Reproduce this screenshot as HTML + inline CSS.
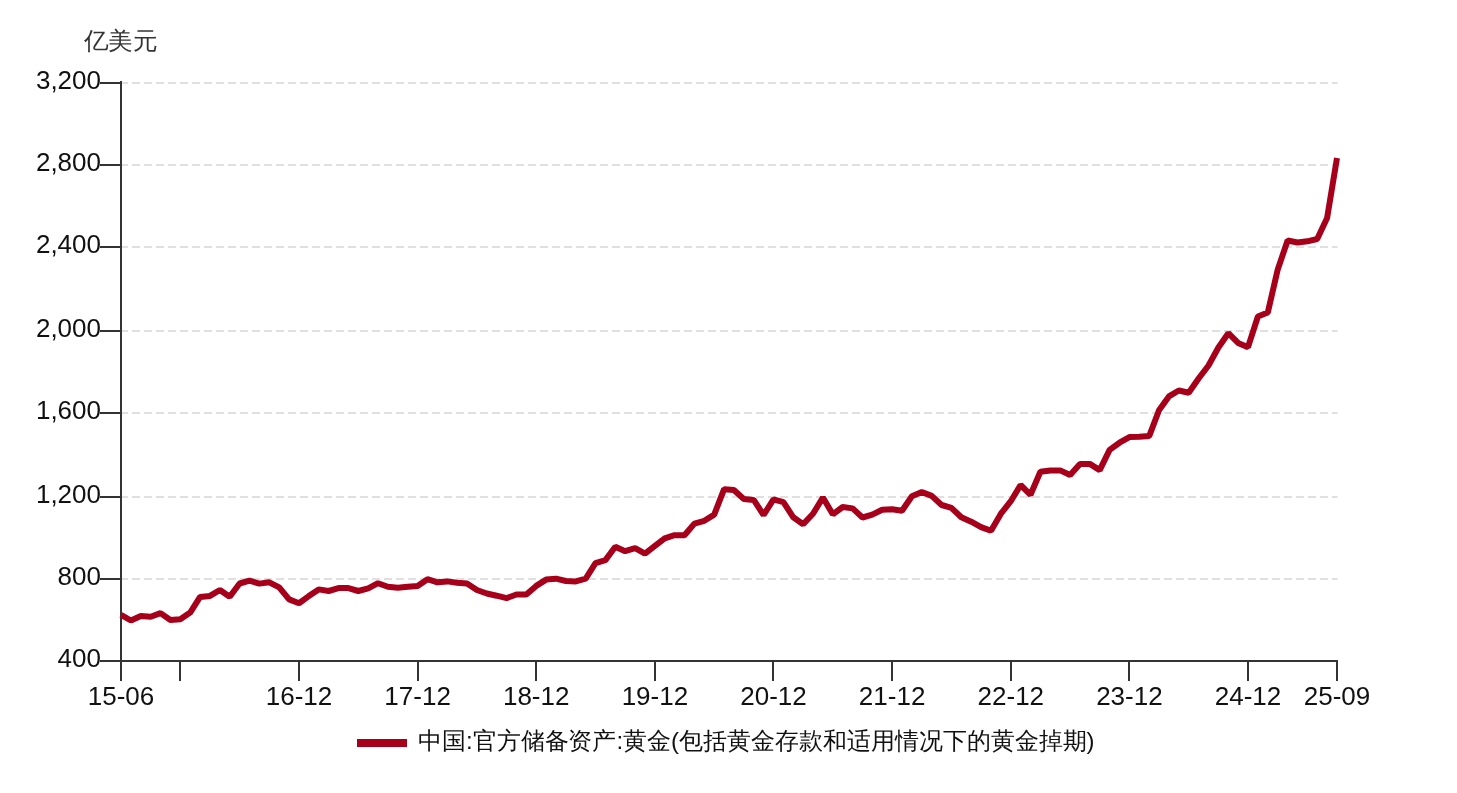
<!DOCTYPE html>
<html><head><meta charset="utf-8">
<style>
html,body{margin:0;padding:0;background:#fff;}
body{width:1457px;height:793px;overflow:hidden;}
svg{display:block;will-change:transform;}
text{font-family:"Liberation Sans",sans-serif;}
.yl{font-size:26px;fill:#111;}
.xl{font-size:26px;fill:#111;}
.unit{font-size:24px;fill:#333;}
.lg{font-size:24px;fill:#111;}
</style></head><body>
<svg width="1457" height="793" viewBox="0 0 1457 793">
<rect width="1457" height="793" fill="#fff"/>
<text x="83.5" y="48.5" class="unit" textLength="74" lengthAdjust="spacingAndGlyphs">亿美元</text>
<line x1="120" y1="83" x2="1337.5" y2="83" stroke="#e0e0e0" stroke-width="2" stroke-dasharray="8 4"/>
<line x1="100" y1="83" x2="121" y2="83" stroke="#333333" stroke-width="2"/>
<text x="101" y="88.5" text-anchor="end" class="yl">3,200</text>
<line x1="120" y1="165" x2="1337.5" y2="165" stroke="#e0e0e0" stroke-width="2" stroke-dasharray="8 4"/>
<line x1="100" y1="165" x2="121" y2="165" stroke="#333333" stroke-width="2"/>
<text x="101" y="170.5" text-anchor="end" class="yl">2,800</text>
<line x1="120" y1="247" x2="1337.5" y2="247" stroke="#e0e0e0" stroke-width="2" stroke-dasharray="8 4"/>
<line x1="100" y1="247" x2="121" y2="247" stroke="#333333" stroke-width="2"/>
<text x="101" y="252.5" text-anchor="end" class="yl">2,400</text>
<line x1="120" y1="331" x2="1337.5" y2="331" stroke="#e0e0e0" stroke-width="2" stroke-dasharray="8 4"/>
<line x1="100" y1="331" x2="121" y2="331" stroke="#333333" stroke-width="2"/>
<text x="101" y="336.5" text-anchor="end" class="yl">2,000</text>
<line x1="120" y1="413" x2="1337.5" y2="413" stroke="#e0e0e0" stroke-width="2" stroke-dasharray="8 4"/>
<line x1="100" y1="413" x2="121" y2="413" stroke="#333333" stroke-width="2"/>
<text x="101" y="418.5" text-anchor="end" class="yl">1,600</text>
<line x1="120" y1="497" x2="1337.5" y2="497" stroke="#e0e0e0" stroke-width="2" stroke-dasharray="8 4"/>
<line x1="100" y1="497" x2="121" y2="497" stroke="#333333" stroke-width="2"/>
<text x="101" y="502.5" text-anchor="end" class="yl">1,200</text>
<line x1="120" y1="579" x2="1337.5" y2="579" stroke="#e0e0e0" stroke-width="2" stroke-dasharray="8 4"/>
<line x1="100" y1="579" x2="121" y2="579" stroke="#333333" stroke-width="2"/>
<text x="101" y="584.5" text-anchor="end" class="yl">800</text>
<line x1="100" y1="661" x2="121" y2="661" stroke="#333333" stroke-width="2"/>
<text x="101" y="666.5" text-anchor="end" class="yl">400</text>
<line x1="121" y1="81" x2="121" y2="681" stroke="#333333" stroke-width="2"/>
<line x1="120" y1="661" x2="1338" y2="661" stroke="#333333" stroke-width="2"/>
<line x1="121" y1="661" x2="121" y2="681" stroke="#333333" stroke-width="2"/>
<text x="121.0" y="705" text-anchor="middle" class="xl">15-06</text>
<line x1="180" y1="661" x2="180" y2="681" stroke="#333333" stroke-width="2"/>
<line x1="299" y1="661" x2="299" y2="681" stroke="#333333" stroke-width="2"/>
<text x="299.0" y="705" text-anchor="middle" class="xl">16-12</text>
<line x1="418" y1="661" x2="418" y2="681" stroke="#333333" stroke-width="2"/>
<text x="417.6" y="705" text-anchor="middle" class="xl">17-12</text>
<line x1="536" y1="661" x2="536" y2="681" stroke="#333333" stroke-width="2"/>
<text x="536.2" y="705" text-anchor="middle" class="xl">18-12</text>
<line x1="655" y1="661" x2="655" y2="681" stroke="#333333" stroke-width="2"/>
<text x="654.9" y="705" text-anchor="middle" class="xl">19-12</text>
<line x1="773" y1="661" x2="773" y2="681" stroke="#333333" stroke-width="2"/>
<text x="773.5" y="705" text-anchor="middle" class="xl">20-12</text>
<line x1="892" y1="661" x2="892" y2="681" stroke="#333333" stroke-width="2"/>
<text x="892.1" y="705" text-anchor="middle" class="xl">21-12</text>
<line x1="1011" y1="661" x2="1011" y2="681" stroke="#333333" stroke-width="2"/>
<text x="1010.8" y="705" text-anchor="middle" class="xl">22-12</text>
<line x1="1129" y1="661" x2="1129" y2="681" stroke="#333333" stroke-width="2"/>
<text x="1129.4" y="705" text-anchor="middle" class="xl">23-12</text>
<line x1="1248" y1="661" x2="1248" y2="681" stroke="#333333" stroke-width="2"/>
<text x="1248.0" y="705" text-anchor="middle" class="xl">24-12</text>
<line x1="1337" y1="661" x2="1337" y2="681" stroke="#333333" stroke-width="2"/>
<text x="1337.0" y="705" text-anchor="middle" class="xl">25-09</text>
<polyline points="121.0,614.9 130.9,620.5 140.8,616.0 150.7,616.8 160.5,613.1 170.4,620.0 180.3,619.2 190.2,612.6 200.1,596.9 210.0,595.9 219.9,590.0 229.7,596.8 239.6,583.5 249.5,580.7 259.4,583.6 269.3,582.3 279.2,587.4 289.1,599.4 299.0,603.2 308.8,596.1 318.7,589.4 328.6,591.0 338.5,588.1 348.4,588.1 358.3,591.0 368.2,588.3 378.0,583.2 387.9,586.8 397.8,587.7 407.7,586.8 417.6,585.9 427.5,579.2 437.4,582.3 447.2,581.4 457.1,582.7 467.0,583.6 476.9,590.0 486.8,593.5 496.7,595.7 506.6,598.1 516.4,594.5 526.3,594.5 536.2,585.9 546.1,579.6 556.0,578.7 565.9,581.0 575.8,581.4 585.7,578.7 595.5,563.2 605.4,560.1 615.3,546.8 625.2,551.2 635.1,548.1 645.0,553.6 654.9,545.9 664.7,538.3 674.6,535.2 684.5,535.3 694.4,523.6 704.3,520.8 714.2,514.6 724.1,489.2 733.9,490.1 743.8,499.0 753.7,499.9 763.6,515.0 773.5,499.4 783.4,502.1 793.3,517.3 803.1,524.3 813.0,513.8 822.9,497.5 832.8,514.3 842.7,507.0 852.6,508.4 862.5,517.5 872.3,514.6 882.2,509.7 892.1,509.3 902.0,510.8 911.9,496.3 921.8,492.0 931.7,495.9 941.6,505.0 951.4,507.9 961.3,517.3 971.2,521.7 981.1,527.1 991.0,530.8 1000.9,513.7 1010.8,501.2 1020.6,485.0 1030.5,494.8 1040.4,471.8 1050.3,470.5 1060.2,470.4 1070.1,475.0 1080.0,463.9 1089.8,463.9 1099.7,470.1 1109.6,449.9 1119.5,442.7 1129.4,437.1 1139.3,436.7 1149.2,436.1 1159.0,410.2 1168.9,396.4 1178.8,390.5 1188.7,392.7 1198.6,378.5 1208.5,365.5 1218.4,347.5 1228.3,333.2 1238.1,342.9 1248.0,347.2 1257.9,316.5 1267.8,312.5 1277.7,269.6 1287.6,240.5 1297.5,242.5 1307.3,241.3 1317.2,239.0 1327.1,218.0 1337.0,158.0" fill="none" stroke="#a6001a" stroke-width="6" stroke-linejoin="bevel"/>
<rect x="357" y="739" width="50" height="8" fill="#a6001a"/>
<text x="418" y="748.5" class="lg" textLength="676.5" lengthAdjust="spacingAndGlyphs">中国:官方储备资产:黄金(包括黄金存款和适用情况下的黄金掉期)</text>
</svg>
</body></html>
